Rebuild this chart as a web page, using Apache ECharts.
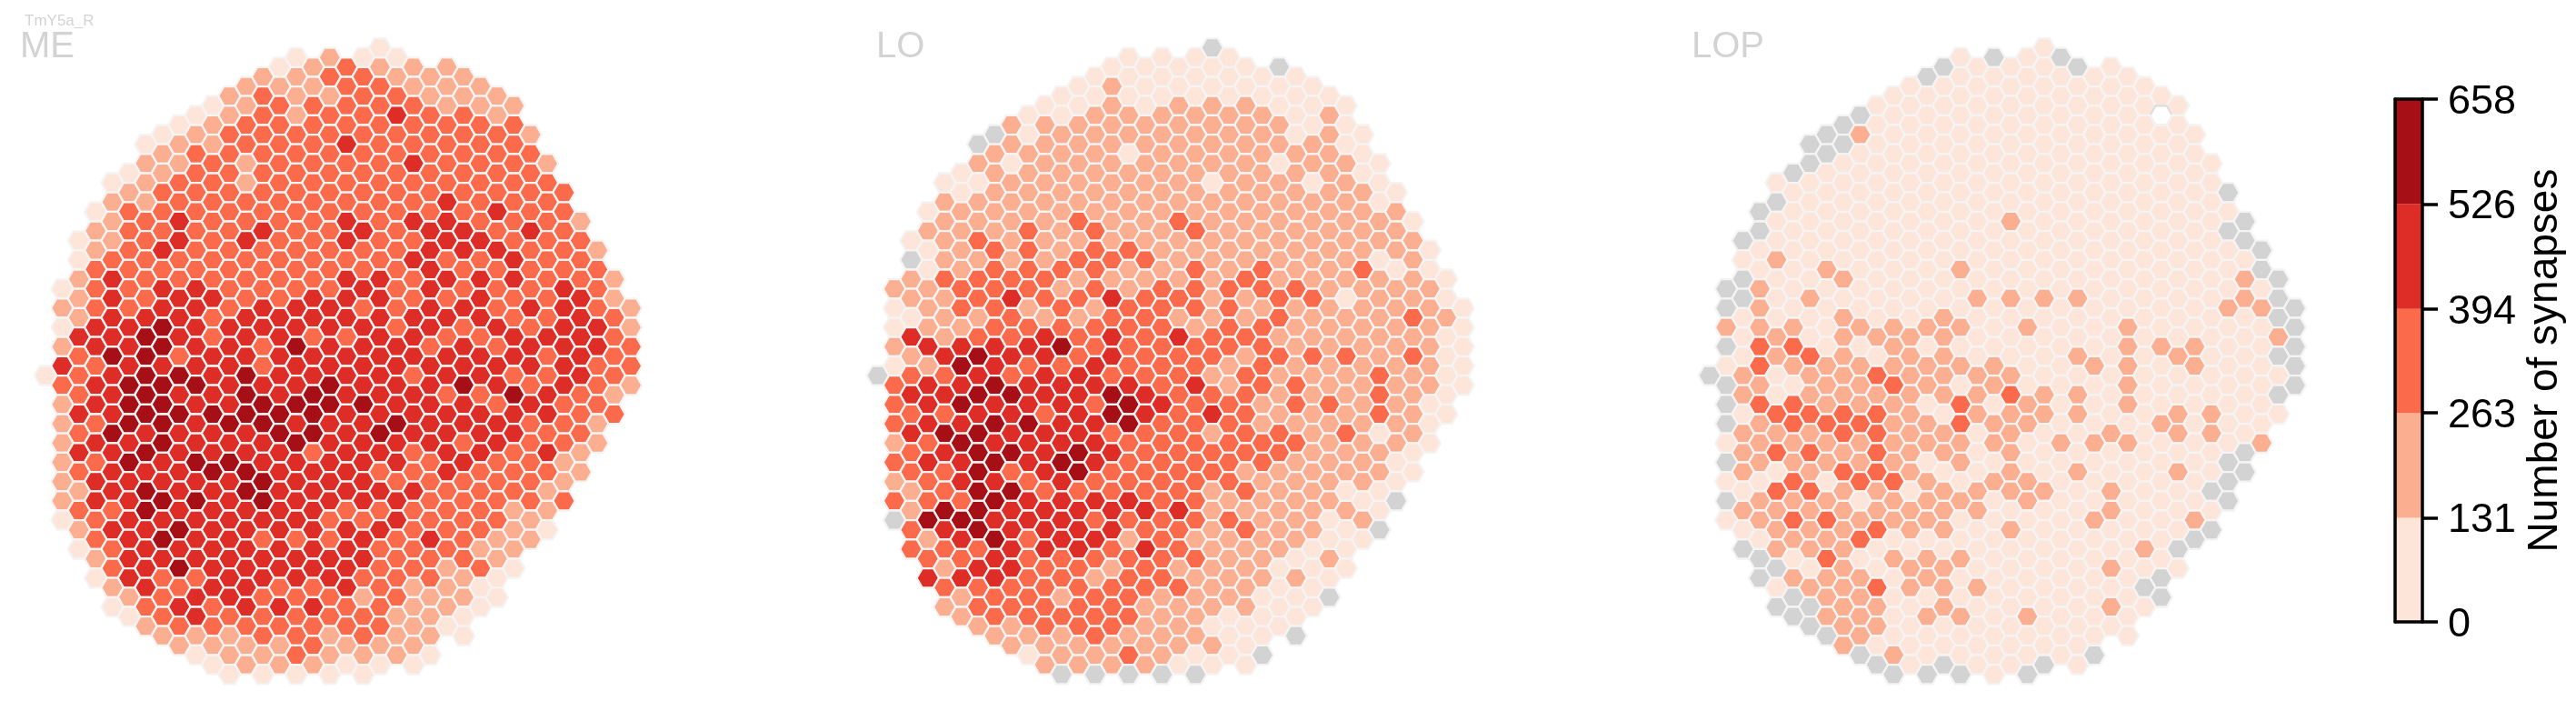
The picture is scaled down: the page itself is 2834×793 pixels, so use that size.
<!DOCTYPE html>
<html>
<head>
<meta charset="utf-8">
<style>html,body{margin:0;padding:0;background:#fff}#chart{width:2834px;height:793px}</style>
<script src="https://cdn.jsdelivr.net/npm/echarts@6/dist/echarts.min.js"></script>
</head>
<body>
<div id="chart"></div>
<script>
// Each string is one half-row of the hexagonal lattice (top to bottom).
// Even rows hold columns 0,2,4..; odd rows hold columns 1,3,5..
// '.' no cell, '0' no data (grey), '1'-'5' synapse bin, 'w' empty white cell.
const meRows = [
"..........1",".......1211",".......123222","......2233222","......22233222",".....232233222",
".....1233333222","....1232334332","....12333333333","...123333333332","...122333433333","...233333333333",
"...2232333343332","..1233333333333","..12332333333333","..23333333333333","..22333333334333",".133333333333433",
"..234333343443332",".233334334344343",".1234343343344333",".2343333333444332",".1333333333433433",".3333333333433333",
".24333333443444332","13344333343433343",".24344334443343342","233443444334434432",".24443444444443343","144544444434343442",
".44543443344334443","244544354443434443",".35534444444444343","434444344444444433","134554544443443343","345554445444543432",
".34544545444335432","24554455554443433",".44555555444444433","23554554445444332",".3544445545444433","24454445444434332",
".4454444344344342","2354554444434332",".3444554443343332","2444445444333332",".245445444443332","2445545444433333",
".335444443333322","134444443343332",".244544444433321",".34544333434322",".13444444433322",".2444444443332",
"..3454444433231",".1433444433321","..243443343221","..234433323221","..134344433221","..13433333221",
"...2333333321","...2223323221","....22223222","....12232221",".....1222111",".....11111"
];
const loRows = [
"..........0",".......1111",".......111110","......1111111","......12111111",".....111111111",
".....1121222111","....1122222212","....22222222211","...012222222121","...022222222221","...222212222221",
"...2122222221221","..1222222222221","..11222222122121","..12222222222221","..22222222222221",".122222222222222",
"..222232232222221",".222323223222222",".1232222222222222",".1233233222222221",".0222233322222212",".1233332232322311",
".23333222223222221","22333232333332222",".22343343322331221","123323233332222221",".12232233222322232","122333333233222221",
".42334343433222221","244445333333222221",".24544343332333231","125433433323222221","033434433323222321","344544443423322221",
".44554454333222321","34544435433233221",".33443454343222321","34455445333222221",".4554443332332312","23544443333332221",
".3455454333332221","3445454333332221",".3353453333222221","2344343333322221",".235533333232211","3335444433222210",
".255444444222221","055444333332212",".345444433232210",".24534423222211",".33344434322211",".3343333332212",
"..2443323222111",".4443323322221","..333333332211","..233233222110","..233333222211","..23333322111",
"...2233322111","...2223222110","....22222221","....12232110",".....2222111",".....00000"
];
const lopRows = [
"..........1",".......1010",".......011101","......0111111","......11111111",".....111111111",
".....1111111111","....011111111w","....01111111111","...021111111111","...001111111111","...011111111111",
"...0111111111111","..0111111111111","..11111111111111","..11111111111110","..01111111111111",".011111111111111",
"..111111121111110",".011111111111110",".0111111111111110",".1111111111111110",".1211111111111111",".1121112111111110",
".01121111111111120","02111111111111111",".01211112222111120","021111111111111220",".11121121111111110","222122221211211110",
".12122221111111112","033112111111222110",".12321221112112110","132222222112212110","021223222211111111","021223212111211110",
".21222222322111110","03322213121121111",".13333212222112211","02333223221112111",".2223322121121221","12222222212221112",
".2332322121111110","0222221211111110",".2123321121211210","1131332122111110",".133221222212110","0222122212111110",
".222222221112111","123322211112112",".122232212111110",".12231111111110",".02221111111120",".0131222111111",
"..0121221111211",".0222121111110","..122322211110","..022111111110","..002212111121","..02212212111",
"...0221111111","...0211111111","....21111111","....02111110",".....0101101",".....00010"
];
const panelNames = ["ME", "LO", "LOP"];
const cellType = "TmY5a_R";
const binEdges = [0, 131, 263, 394, 526, 658];
const binColors = ["#fee5d9", "#fcae91", "#fb6a4a", "#de2d26", "#a50f15"];
const noDataColor = "#d3d3d3";
const colorbarTitle = "Number of synapses";

const FONT = '"Liberation Sans", Arial, sans-serif';
const panelRows = [meRows, loRows, lopRows];
const panelLeft = [50, 965.6, 1880.8];

function toCells(rows) {
  const cells = [];
  rows.forEach((line, r) => {
    [...line].forEach((ch, k) => {
      if (ch !== '.') cells.push([2 * k + (r % 2), r, ch]);
    });
  });
  return cells;
}

function renderHex(params, api) {
  const c = api.coord([api.value(0), api.value(1)]);
  const R = api.size([1, 0])[0] / 1.5;
  const code = api.value(2);
  const pts = [];
  for (let a = 0; a < 6; a++) {
    pts.push([c[0] + R * Math.cos(a * Math.PI / 3), c[1] + R * Math.sin(a * Math.PI / 3)]);
  }
  let fill = noDataColor, stroke = '#f4f4f4';
  if (code === 'w') { fill = '#ffffff'; stroke = '#dddddd'; }
  else if (code !== '0') { fill = binColors[+code - 1]; }
  return { type: 'polygon', shape: { points: pts }, style: { fill, stroke, lineWidth: 2.3 } };
}

const grids = [], xAxes = [], yAxes = [], series = [];
panelRows.forEach((rows, i) => {
  grids.push({ left: panelLeft[i], width: 644, top: 52.7, height: 689 });
  xAxes.push({ type: 'value', gridIndex: i, min: 0, max: 35, show: false });
  yAxes.push({ type: 'value', gridIndex: i, min: 0, max: 65, inverse: true, show: false });
  series.push({
    type: 'custom', xAxisIndex: i, yAxisIndex: i, renderItem: renderHex,
    data: toCells(rows),
    dimensions: [{ name: 'col', type: 'number' }, { name: 'row', type: 'number' }, { name: 'bin', type: 'ordinal' }],
    encode: { x: 0, y: 1 }, silent: true, animation: false, clip: false
  });
});

// colour bar: stacked bars on its own value axis
const cb = panelRows.length;
grids.push({ left: 2635, width: 30, top: 109, height: 575 });
const frameLine = { show: true, onZero: false, lineStyle: { color: '#000', width: 3.5 } };
xAxes.push(
  { type: 'category', gridIndex: cb, data: ['bin'], position: 'bottom', z: 5, axisLine: frameLine, axisTick: { show: false }, axisLabel: { show: false } },
  { type: 'category', gridIndex: cb, data: ['bin'], position: 'top', z: 5, axisLine: frameLine, axisTick: { show: false }, axisLabel: { show: false } }
);
yAxes.push(
  {
    type: 'value', gridIndex: cb, min: 0, max: 658, position: 'right', z: 5,
    axisLine: frameLine, splitLine: { show: false },
    axisTick: { show: true, length: 17, customValues: binEdges, lineStyle: { color: '#000', width: 3.5 } },
    axisLabel: {
      show: true, margin: 28, color: '#000', fontFamily: FONT, fontSize: 45, customValues: binEdges,
      formatter: v => '{t|' + v + '}',
      rich: { t: { color: '#000', fontFamily: FONT, fontSize: 45, padding: [7, 0, 0, 0] } }
    },
    name: colorbarTitle, nameLocation: 'middle', nameRotate: 90, nameGap: 112,
    nameTextStyle: { color: '#000', fontFamily: FONT, fontSize: 46 }
  },
  {
    type: 'value', gridIndex: cb, min: 0, max: 658, position: 'left', z: 5,
    axisLine: frameLine, axisTick: { show: false }, axisLabel: { show: false }, splitLine: { show: false }
  }
);
binColors.forEach((color, i) => {
  series.push({
    type: 'bar', xAxisIndex: cb, yAxisIndex: cb, stack: 'colorbar', barWidth: '100%',
    data: [binEdges[i + 1] - binEdges[i]], itemStyle: { color }, silent: true, animation: false
  });
});

const titles = [{
  text: cellType, left: 27, top: 15,
  textStyle: { color: '#d3d3d3', fontFamily: FONT, fontSize: 17, fontWeight: 'normal' }, padding: 0
}];
panelNames.forEach((name, i) => {
  titles.push({
    text: name, left: [22, 964, 1861][i], top: 32,
    textStyle: { color: '#d3d3d3', fontFamily: FONT, fontSize: 40, fontWeight: 'normal' }, padding: 0
  });
});

const chart = echarts.init(document.getElementById('chart'), null, { renderer: 'canvas' });
chart.setOption({
  animation: false, backgroundColor: '#fff',
  title: titles, grid: grids, xAxis: xAxes, yAxis: yAxes, series
});
</script>
</body>
</html>
